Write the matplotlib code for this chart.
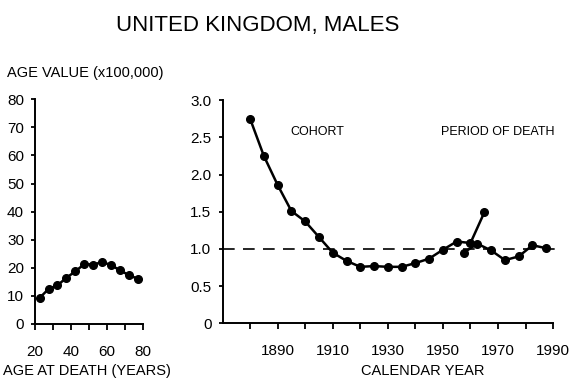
import numpy as np
import matplotlib.pyplot as plt
from matplotlib.ticker import FixedLocator, NullFormatter

plt.rcParams['font.family'] = ['Liberation Sans', 'DejaVu Sans']

# age value by age at death (5-year age groups, x100,000)
age_mid = [22.5, 27.5, 32.5, 37.5, 42.5, 47.5, 52.5, 57.5, 62.5, 67.5, 72.5, 77.5]
age_value = [9.2, 12.4, 13.7, 16.4, 18.7, 21.3, 21.1, 22.0, 20.9, 19.0, 17.3, 16.0]

# cohort effect by birth year
cohort_year = [1880, 1885, 1890, 1895, 1900, 1905, 1910, 1915, 1920,
               1925, 1930, 1935, 1940, 1945, 1950, 1955, 1960, 1965]
cohort_value = [2.75, 2.25, 1.86, 1.51, 1.37, 1.16, 0.95, 0.84, 0.76,
                0.77, 0.76, 0.76, 0.81, 0.87, 0.99, 1.10, 1.08, 1.49]

# period of death effect
period_year = [1957.5, 1962.5, 1967.5, 1972.5, 1977.5, 1982.5, 1987.5]
period_value = [0.95, 1.07, 0.98, 0.85, 0.90, 1.05, 1.01]

left_ticks = [20, 40, 60, 80]
year_ticks = [1890, 1910, 1930, 1950, 1970, 1990]

fig = plt.figure(figsize=(5.75, 3.85), dpi=100)
ax1 = fig.add_axes([0.061, 0.159, 0.187, 0.583])
ax2 = fig.add_axes([0.387, 0.160, 0.575, 0.580])

line_kw = dict(color='black', lw=1.8, marker='o', ms=5.5, mfc='black', mec='black', clip_on=False)

# left panel: age effect
ax1.plot(age_mid, age_value, **line_kw)
ax1.set_xlim(20, 80)
ax1.set_ylim(0, 80)
ax1.set_xticks(left_ticks)
ax1.xaxis.set_minor_locator(FixedLocator([30, 50, 70]))
ax1.set_yticks(np.arange(0, 81, 10))

# right panel: cohort and period effects
ax2.plot([1870, 1993], [1.0, 1.0], color='black', lw=1.2, ls=(0, (7, 5)), clip_on=False)
ax2.plot(cohort_year, cohort_value, **line_kw)
ax2.plot(period_year, period_value, **line_kw)
ax2.set_xlim(1870, 1990)
ax2.set_ylim(0, 3.0)
ax2.set_xticks(year_ticks)
ax2.xaxis.set_minor_locator(FixedLocator([1880, 1900, 1920, 1940, 1960, 1980]))
ax2.set_yticks([0, 0.5, 1.0, 1.5, 2.0, 2.5, 3.0])
ax2.set_yticklabels(['0', '0.5', '1.0', '1.5', '2.0', '2.5', '3.0'])
ax2.text(1904.5, 2.57, 'COHORT', fontsize=9, ha='center', va='center')
ax2.text(1970, 2.57, 'PERIOD OF DEATH', fontsize=9, ha='center', va='center')

for ax in (ax1, ax2):
    ax.spines['top'].set_visible(False)
    ax.spines['right'].set_visible(False)
    ax.spines['left'].set_linewidth(1.4)
    ax.spines['bottom'].set_linewidth(1.4)
    ax.tick_params(axis='x', which='both', direction='out', length=4, width=1.3, pad=11, labelsize=11)
    ax.tick_params(axis='y', which='both', direction='out', length=3, width=1.3, pad=5, labelsize=11)
    ax.xaxis.set_minor_formatter(NullFormatter())

fig.text(0.449, 0.935, 'UNITED KINGDOM, MALES', fontsize=16, ha='center', va='center')
fig.text(0.012, 0.81, 'AGE VALUE (x100,000)', fontsize=10.5, ha='left', va='center')
fig.text(0.005, 0.036, 'AGE AT DEATH (YEARS)', fontsize=10.5, ha='left', va='center')
fig.text(0.735, 0.036, 'CALENDAR YEAR', fontsize=10.5, ha='center', va='center')

fig.savefig('out.png', dpi=100)
